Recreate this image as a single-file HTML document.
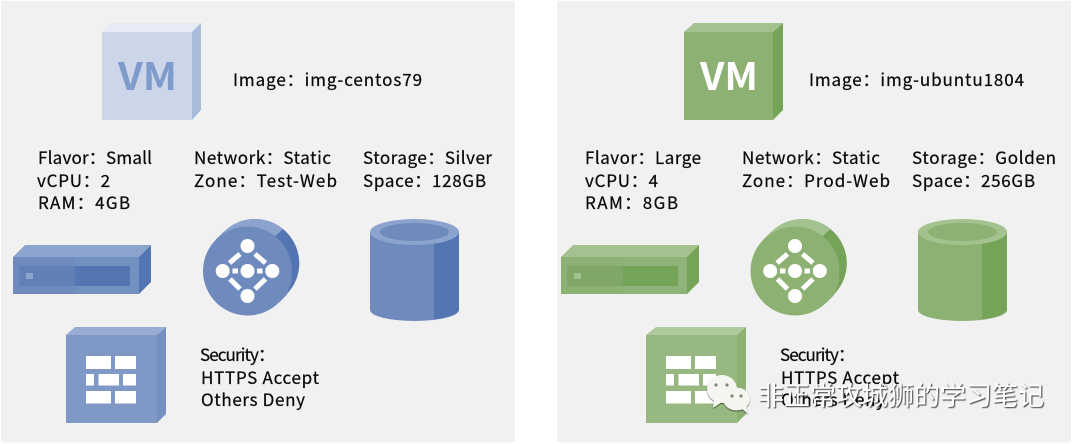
<!DOCTYPE html>
<html><head><meta charset="utf-8"><style>html,body{margin:0;padding:0;background:#fff;width:1080px;height:444px;overflow:hidden}svg{display:block}
text{font-family:"Noto Sans CJK SC","Liberation Sans",sans-serif;font-size:17px;fill:#0a0a0a;stroke:#0a0a0a;stroke-width:.25px}
text.vm{font-family:"Noto Sans CJK SC","Liberation Sans",sans-serif;font-size:38px;font-weight:700;stroke:none}
text.wm{font-family:"Noto Sans CJK SC","Liberation Sans",sans-serif;font-size:26px;fill:#fff;stroke:none;filter:drop-shadow(1px 1px .6px rgba(0,0,0,.75))}</style></head><body>
<svg width="1080" height="444" viewBox="0 0 1080 444" xmlns="http://www.w3.org/2000/svg">
<defs>
<g id="net">
<circle cx="255" cy="263.300" r="44.300" fill="var(--s)"/>
<polygon points="216,239.500 223.500,232 286.500,295 279,302.500" fill="var(--s)"/>
<path d="M216 239.500 L223.500 232 A44.300 44.300 0 0 1 283 229 L272 239 L240 270Z" fill="var(--t)"/>
<polygon points="247.500,271 292,280 286.500,295 279,302.500" fill="var(--f)"/>
<circle cx="247.500" cy="271" r="44.500" fill="var(--f)"/>
<g fill="#fff"><circle cx="247.500" cy="246" r="7"/><circle cx="247.500" cy="271" r="7"/><circle cx="247.500" cy="296" r="7"/><circle cx="222.700" cy="271" r="7"/><circle cx="272.300" cy="271" r="7"/>
<rect x="232.500" y="268.500" width="5.500" height="5"/><rect x="257" y="268.500" width="5.500" height="5"/></g>
<g stroke="#fff" stroke-width="5" fill="none"><path d="M229.500 263 L240 254M255 254 L265.500 263M230 279 L240 289M255 289 L265.500 279"/></g>
</g>
<g id="cyl">
<path d="M370 232 V310 A44.500 11 0 0 0 459 310 V232Z" fill="var(--f)"/>
<path d="M434 243 Q450 240 459 232 V310 Q456 316 434 319.500Z" fill="var(--s)"/>
<ellipse cx="414.500" cy="232" rx="44.500" ry="13" fill="var(--t)"/>
<ellipse cx="414.500" cy="232" rx="34.500" ry="9" fill="var(--f)"/>
</g>
<g id="srv">
<polygon points="13,257 25,245 151,245 139,257" fill="var(--t)"/>
<polygon points="139,257 151,245 151,282 139,294" fill="var(--s)"/>
<rect x="13" y="257" width="126" height="37" fill="var(--f)"/>
<rect x="75" y="257" width="64" height="37" fill="var(--g)"/>
<rect x="19" y="266" width="56" height="20" fill="var(--m)"/>
<rect x="75" y="266" width="55" height="20" fill="var(--s)"/>
<rect x="26" y="273" width="7" height="6" fill="var(--t)"/>
</g>
</defs>
<rect x="1" y="1" width="514" height="441.500" fill="#f1f1f1"/>
<rect x="557" y="1" width="514" height="441.500" fill="#f1f1f1"/>

<polygon points="102,32 112,23 201,23 192,32" fill="#e6ebf5"/>
<polygon points="192,32 201,23 201,110 192,120" fill="#a8bbdb"/>
<rect x="102" y="32" width="90" height="88" fill="#ccd6e8"/>
<text class="vm" x="118" y="90" style="fill:#7f9bcc" textLength="59" lengthAdjust="spacingAndGlyphs">VM</text>

<polygon points="684,32 694,23 783,23 773,32" fill="#a4c28f"/>
<polygon points="773,32 783,23 783,110 773,120" fill="#75a358"/>
<rect x="684" y="32" width="89" height="88" fill="#8db073"/>
<text class="vm" x="700" y="90" style="fill:#fff" textLength="58" lengthAdjust="spacingAndGlyphs">VM</text>

<g style="--f:#6f8bbd;--t:#8ca3cd;--s:#5376b3;--m:#6380b6;--g:#7290c0">
<use href="#srv"/><use href="#net"/><use href="#cyl"/>
</g>
<g style="--f:#8db073;--t:#a4c28f;--s:#75a358;--m:#80a766;--g:#90b37a">
<use href="#srv" x="548"/><use href="#net" x="547.500"/><use href="#cyl" x="548"/>
</g>

<polygon points="66,335 75,327 166,327 157,335" fill="#98acd4"/>
<polygon points="157,335 166,327 166,414 157,423" fill="#7490c0"/>
<rect x="66" y="335" width="91" height="88" fill="#7f98c6"/>
<g fill="#fff"><rect x="86" y="356" width="25" height="13"/><rect x="115" y="356" width="21" height="13"/><rect x="86" y="374" width="8" height="11.500"/><rect x="98.500" y="374" width="20.500" height="11.500"/><rect x="123" y="374" width="13" height="11.500"/><rect x="86" y="391" width="25" height="12.500"/><rect x="115" y="391" width="21" height="12.500"/></g>

<polygon points="646,335 656,327 746,327 737,335" fill="#aec99c"/>
<polygon points="737,335 746,327 746,414 737,423" fill="#8db073"/>
<rect x="646" y="335" width="91" height="88" fill="#97b880"/>
<g fill="#fff"><rect x="666" y="356" width="25" height="13"/><rect x="695" y="356" width="21" height="13"/><rect x="666" y="374" width="8" height="11.500"/><rect x="678.500" y="374" width="20.500" height="11.500"/><rect x="703" y="374" width="13" height="11.500"/><rect x="666" y="391" width="25" height="12.500"/><rect x="695" y="391" width="21" height="12.500"/></g>

<text x="233" y="86" textLength="189">Image：img-centos79</text>
<text x="38" y="164" textLength="114">Flavor：Small</text>
<text x="37" y="187" textLength="73">vCPU：2</text>
<text x="38" y="209" textLength="92">RAM：4GB</text>
<text x="194" y="164" textLength="137">Network：Static</text>
<text x="194" y="187" textLength="143">Zone：Test-Web</text>
<text x="363" y="164" textLength="129">Storage：Silver</text>
<text x="363" y="187" textLength="123">Space：128GB</text>
<text x="200" y="361" textLength="75">Security：</text>
<text x="201" y="384" textLength="118">HTTPS Accept</text>
<text x="201" y="406" textLength="104">Others Deny</text>

<text x="809" y="86" textLength="215">Image：img-ubuntu1804</text>
<text x="585" y="164" textLength="116">Flavor：Large</text>
<text x="585" y="187" textLength="73">vCPU：4</text>
<text x="585" y="209" textLength="93">RAM：8GB</text>
<text x="742" y="164" textLength="138">Network：Static</text>
<text x="742" y="187" textLength="148">Zone：Prod-Web</text>
<text x="912" y="164" textLength="144">Storage：Golden</text>
<text x="912" y="187" textLength="123">Space：256GB</text>
<text x="780" y="361" textLength="75">Security：</text>
<text x="781" y="384" textLength="118">HTTPS Accept</text>
<text x="781" y="406" textLength="104">Others Deny</text>

<g style="filter:drop-shadow(.5px 1px .6px rgba(0,0,0,.55))">
<ellipse cx="722" cy="389" rx="15" ry="14" fill="#f5f6f2"/>
<path d="M714 400 L713 408 L722 402Z" fill="#f5f6f2"/>
<ellipse cx="736.500" cy="399" rx="13.500" ry="11.500" fill="#f3f5ee"/>
<path d="M741 408 L748 414 L746 405Z" fill="#f3f5ee"/>
<g fill="#7d8a72"><circle cx="716" cy="385" r="1.600"/><circle cx="727" cy="385" r="1.600"/><circle cx="732" cy="396" r="1.600"/><circle cx="741" cy="396" r="1.600"/></g>
</g>
<text class="wm" x="758" y="405" textLength="286">非正常攻城狮的学习笔记</text>
</svg>
</body></html>
